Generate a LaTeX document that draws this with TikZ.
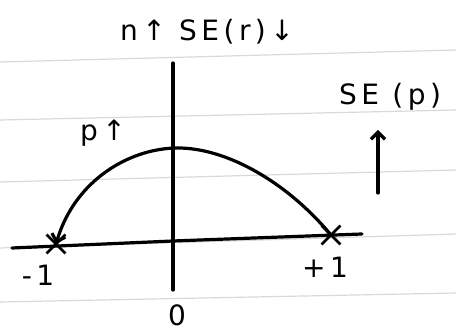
\documentclass[tikz,border=0pt]{standalone}
\usepackage{fontspec}
\setmainfont{DejaVu Sans}[LetterSpace=16]
\usetikzlibrary{shapes.misc,arrows.meta}
\tikzset{
  ink/.style={line width=3.2pt, line cap=round},
  rule/.style={black!15, line width=1.2pt},
  xmark/.style={cross out, draw, line width=2.8pt, minimum size=16pt, inner sep=0pt},
  hand/.style={font=\fontsize{28}{28}\selectfont}
}
\begin{document}
\begin{tikzpicture}[x=1pt, y=-1pt, >={Straight Barb[length=7pt,width=14pt]}]
\useasboundingbox (0,0) rectangle (456,331);
% ruled paper
\foreach \ya/\yb in {62/50, 120/110, 182/170, 248/234, 302/293}
  \draw[rule] (0,\ya) -- (456,\yb);
% axes
\coordinate (O) at (173,241);
\coordinate (top) at (173,63);
\coordinate (bot) at (173,290);
\coordinate (left) at (12,248);
\coordinate (right) at (362,234);
\draw[ink] (top) -- (bot);
\draw[ink] (left) -- (O) -- (right);
\node[xmark] (m1) at (56,244) {};
\node[xmark] (p1) at (331,235) {};
% curve
\coordinate (peak) at (178,148);
\draw[ink,->] (p1.center) .. controls (285,180) and (225,148) .. (peak)
  .. controls (130,148) and (75,180) .. (m1.center);
% labels
\node[hand] (title) at (207,32) {n↑ SE(r)↓};
\node[hand] (sep) at (390,97) {SE (p)};
\coordinate (upb) at (378,193);
\coordinate (upt) at (378,130);
\draw[ink,->] (upb) -- (upt);
\node[hand] (pup) at (103,133) {p↑};
\node[hand] (lm1) at (38,275) {-1};
\node[hand] (lp1) at (325,267) {+1};
\node[hand] (l0) at (177,315) {0};
\end{tikzpicture}
\end{document}
